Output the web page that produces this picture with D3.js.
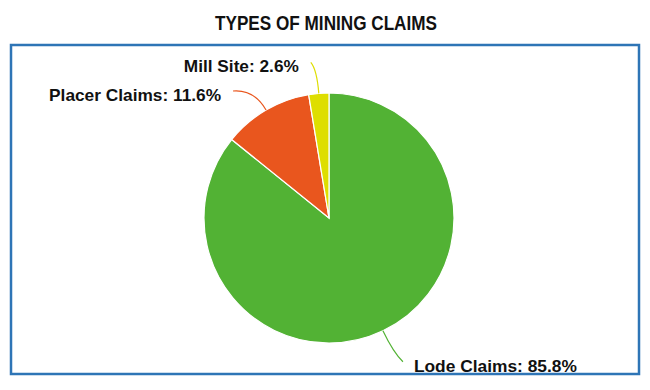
<!DOCTYPE html>
<html>
<head>
<meta charset="utf-8">
<script src="https://cdnjs.cloudflare.com/ajax/libs/d3/7.8.5/d3.min.js"></script>
<style>
  body { margin: 0; background: #fff; }
  text { font-family: "Liberation Sans", Arial, sans-serif; font-weight: bold; fill: #111; }
</style>
</head>
<body>
<div id="chart"></div>
<script>
const categories = ["Lode Claims", "Placer Claims", "Mill Site"]
const values = [85.8, 11.6, 2.6]
const colors = ["#52b234", "#e9561e", "#dede00"]
const labelWidths = [163, 172, 115]
// offsets from the slice edge to the label text, and which side the text sits on
const labelOffsets = [[31, 41, "start"], [-45, -9, "end"], [-20, -21, "end"]]

const W = 650, H = 390
const cx = 329, cy = 218, r = 125

const svg = d3.select("#chart")
    .append("svg")
    .attr("width", W)
    .attr("height", H)

svg.append("text")
    .attr("x", 326)
    .attr("y", 30)
    .attr("text-anchor", "middle")
    .attr("font-size", 21)
    .attr("textLength", 222)
    .attr("lengthAdjust", "spacingAndGlyphs")
    .text("TYPES OF MINING CLAIMS")

svg.append("rect")
    .attr("x", 11)
    .attr("y", 45)
    .attr("width", 628)
    .attr("height", 329)
    .attr("fill", "none")
    .style("stroke", "#2e75b6")
    .style("stroke-width", 2.5)

const pie = d3.pie().sort(null)
const arcs = pie(values)
const arc = d3.arc().innerRadius(0).outerRadius(r)

const g = svg.append("g").attr("transform", `translate(${cx},${cy})`)

g.selectAll("path.slice")
    .data(arcs)
    .enter()
    .append("path")
    .attr("class", "slice")
    .attr("d", arc)
    .attr("fill", (d, i) => colors[i])
    .style("stroke", "#fff")
    .style("stroke-width", 1.2)

arcs.forEach((d, i) => {
    const mid = (d.startAngle + d.endAngle) / 2
    const ex = r * Math.sin(mid), ey = -r * Math.cos(mid)
    const [ox, oy, anchor] = labelOffsets[i]
    const tx = ex + ox, ty = ey + oy
    const endX = anchor === "start" ? tx - 11 : tx + 12
    const endY = ty - 10
    const k = 24
    const ctrlX = ex + k * Math.sin(mid), ctrlY = ey - k * Math.cos(mid)
    const path = d3.path()
    path.moveTo(ex, ey)
    path.quadraticCurveTo(ctrlX, ctrlY, endX, endY)
    g.append("path")
        .attr("d", path.toString())
        .attr("fill", "none")
        .style("stroke", colors[i])
        .style("stroke-width", 1.2)

    g.append("text")
        .attr("x", tx)
        .attr("y", ty)
        .attr("text-anchor", anchor)
        .attr("font-size", 17)
        .attr("textLength", labelWidths[i])
        .attr("lengthAdjust", "spacingAndGlyphs")
        .text(categories[i] + ": " + values[i] + "%")
})
</script>
</body>
</html>
